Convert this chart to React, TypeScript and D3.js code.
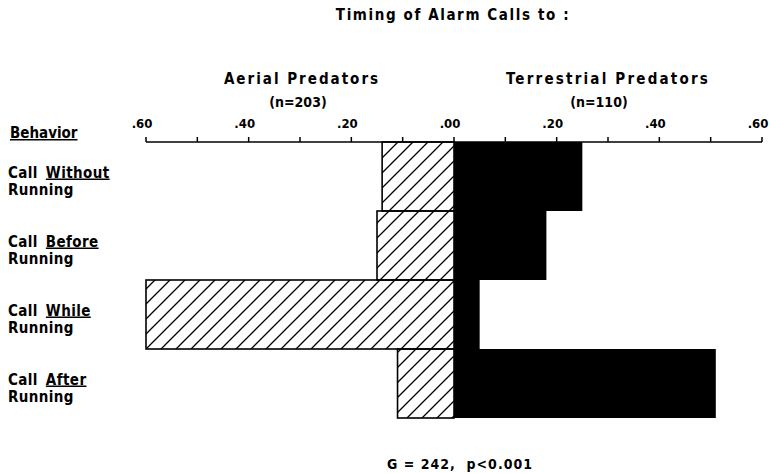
import * as d3 from "d3";

// timing of alarm calls, proportions per behaviour
const behaviors = ["Without", "Before", "While", "After"];
const aerial = [0.14, 0.15, 0.6, 0.11];
const terrestrial = [0.25, 0.18, 0.05, 0.51];
const tickValues = [-0.6, -0.5, -0.4, -0.3, -0.2, -0.1, 0, 0.1, 0.2, 0.3, 0.4, 0.5, 0.6];
const labelValues = [-0.6, -0.4, -0.2, 0, 0.2, 0.4, 0.6];

const width = 769;
const height = 473;
const font = "'DejaVu Sans Condensed', 'DejaVu Sans', sans-serif";

export default function App() {
  const x = d3.scaleLinear([-0.6, 0.6], [146, 762]);
  const y = d3.scaleBand(behaviors, [142, 418]).padding(0);
  const axisY = 142;
  const fmt = (v: number) => d3.format(".2f")(Math.abs(v)).replace(/^0/, "");

  return (
    <svg width={width} height={height} style={{ position: "absolute", left: 0, top: 0, background: "#fff" }}
      fontFamily={font} fontWeight="bold">
      <defs>
        <pattern id="hatch" patternUnits="userSpaceOnUse" width={15} height={15}>
          <path d="M-2,2 l4,-4 M0,15 l15,-15 M13,17 l4,-4" stroke="#000" strokeWidth={1.3} />
        </pattern>
      </defs>

      <text x={453} y={20} textAnchor="middle" fontSize={15} letterSpacing={1.6}>Timing of Alarm Calls to :</text>

      <text x={302} y={84} textAnchor="middle" fontSize={15} letterSpacing={2}>Aerial Predators</text>
      <text x={298} y={107} textAnchor="middle" fontSize={14}>(n=203)</text>
      <text x={608} y={84} textAnchor="middle" fontSize={15} letterSpacing={2.2}>Terrestrial Predators</text>
      <text x={599} y={107} textAnchor="middle" fontSize={14}>(n=110)</text>

      <text x={10} y={138} fontSize={15} textDecoration="underline">Behavior</text>

      {/* bars */}
      {behaviors.map((b, i) => (
        <g key={b}>
          <rect x={x(0)} y={y(b)} width={x(terrestrial[i]) - x(0)} height={y.bandwidth()} fill="#000" />
          <rect x={x(-aerial[i])} y={y(b)} width={x(0) - x(-aerial[i])} height={y.bandwidth()}
            fill="url(#hatch)" stroke="#000" strokeWidth={1.6} />
        </g>
      ))}

      {/* axis on top */}
      <g stroke="#000" strokeWidth={1.5}>
        <line x1={x(-0.6)} x2={x(0.6)} y1={axisY} y2={axisY} />
        {tickValues.map((t) => (
          <line key={t} x1={x(t)} x2={x(t)} y1={axisY} y2={axisY - 5} />
        ))}
      </g>
      {labelValues.map((t) => (
        <text key={t} x={x(t) - 4} y={128} textAnchor="middle" fontSize={13}>{fmt(t)}</text>
      ))}

      {/* row labels */}
      {behaviors.map((b) => {
        const cy = (y(b) as number) + y.bandwidth() / 2 + 1;
        return (
          <text key={b} x={8} fontSize={15} letterSpacing={0.4}>
            <tspan x={8} y={cy}>Call<tspan dx={8} textDecoration="underline">{b}</tspan></tspan>
            <tspan x={8} y={cy + 17}>Running</tspan>
          </text>
        );
      })}

      <text x={460} y={469} textAnchor="middle" fontSize={14} letterSpacing={1} xmlSpace="preserve">G = 242,  p&lt;0.001</text>
    </svg>
  );
}
